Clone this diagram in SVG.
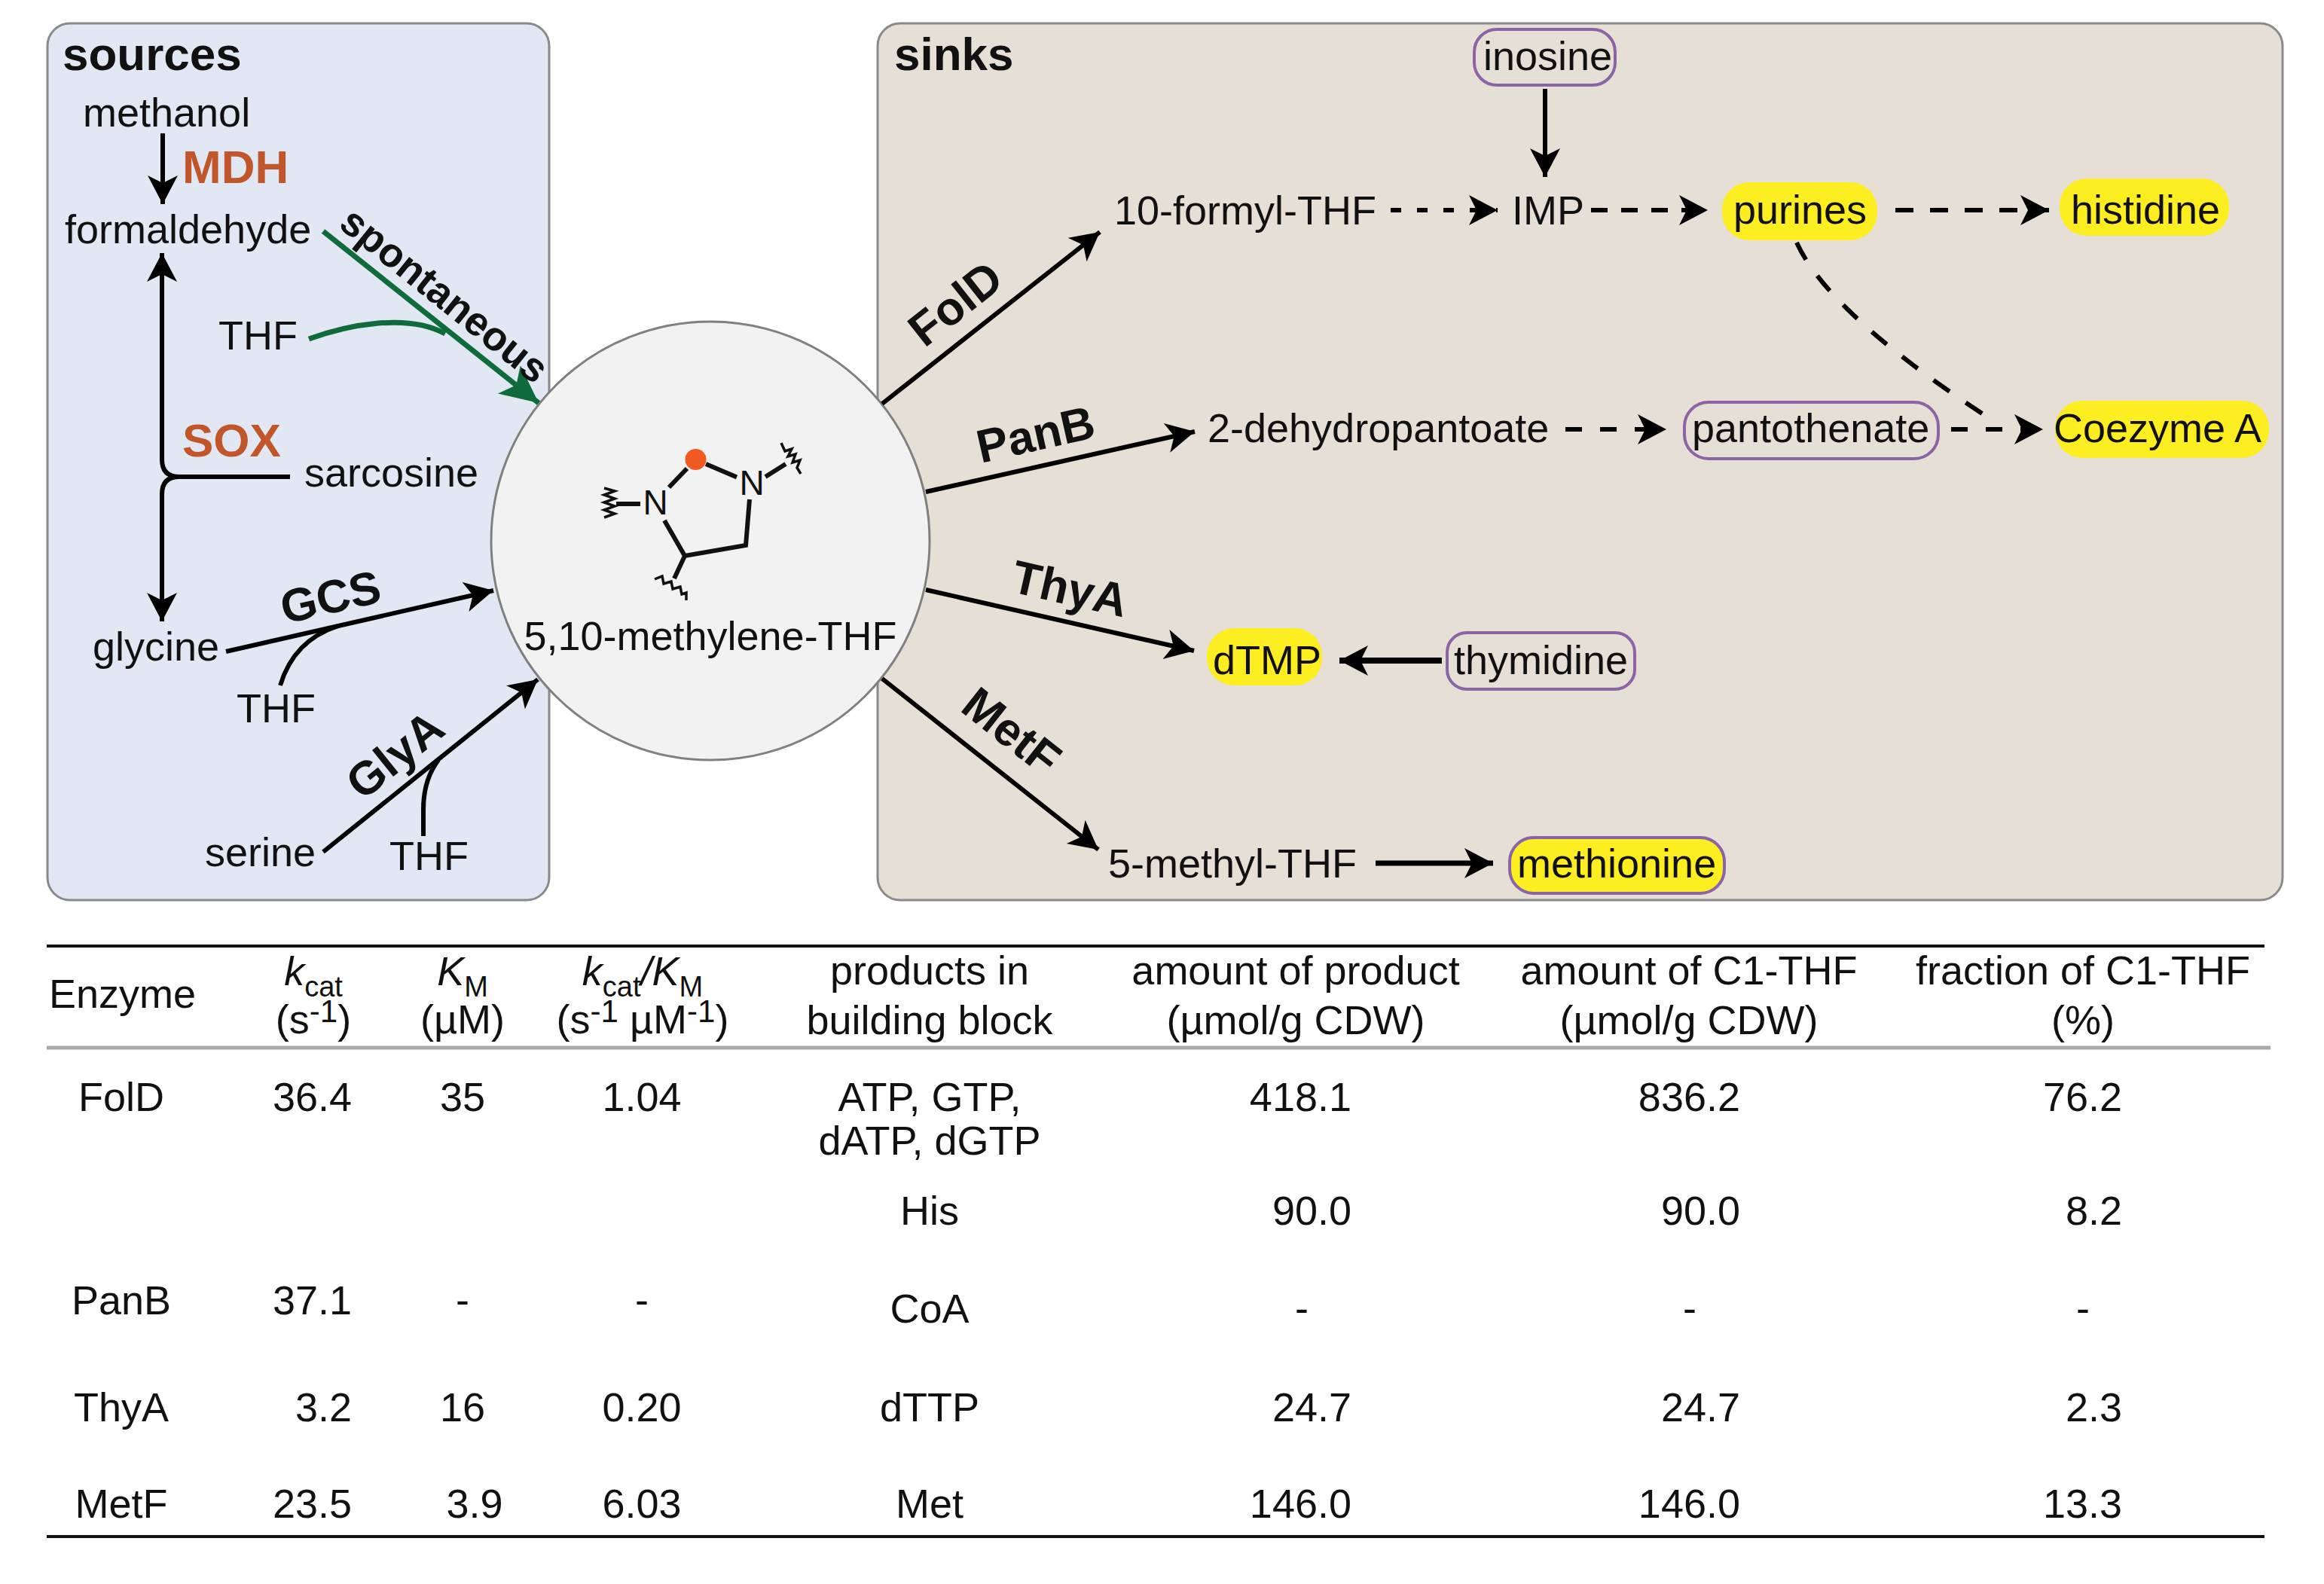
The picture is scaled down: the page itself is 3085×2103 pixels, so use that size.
<svg xmlns="http://www.w3.org/2000/svg" width="3085" height="2103" viewBox="0 0 3085 2103">
<style>
text{font-family:"Liberation Sans",Arial,sans-serif;font-size:54px;fill:#111}
.b{font-weight:bold;font-size:62px}
.o{fill:#c0562a}
.m{text-anchor:middle}
.e{text-anchor:end}
.i{font-style:italic}
.s{font-size:38px}
.u{font-size:42px}
.panel{stroke:#8a8a8a;stroke-width:3}
.pill{fill:none;stroke:#8a64a6;stroke-width:4}
.y{fill:#fdee21}
.l{fill:none;stroke:#000;stroke-width:6}
.la{fill:none;stroke:#000;stroke-width:6;marker-end:url(#a)}
.g{fill:none;stroke:#0f6b3c;stroke-width:7}
.bond{fill:none;stroke:#111;stroke-width:6}
.sq{fill:none;stroke:#111;stroke-width:3.500}
</style>
<defs>
<marker id="a" markerUnits="userSpaceOnUse" markerWidth="44" markerHeight="44" refX="38" refY="20" orient="auto"><path d="M0,0 L38,20 L0,40 L10,20z" fill="#000"/></marker>
<marker id="ag" markerUnits="userSpaceOnUse" markerWidth="56" markerHeight="52" refX="50" refY="24" orient="auto"><path d="M0,0 L50,24 L0,48 L12,24z" fill="#0f6b3c"/></marker>
</defs>
<rect width="3085" height="2103" fill="#fff"/>
<rect id="sources-panel" class="panel" x="63" y="31" width="666" height="1164" rx="30" fill="#e1e7f3"/>
<rect id="sinks-panel" class="panel" x="1165" y="31" width="1865" height="1164" rx="30" fill="#e6dfd6"/>
<g id="hub">
<circle cx="943" cy="718" r="291" fill="#f2f2f2" stroke="#808080" stroke-width="3"/>
<circle cx="923.500" cy="610" r="14" fill="#f05a22"/>
<path class="bond" d="M888,647L912,622M937,616L978,633.500M995,663L990,724L909,738L882,691M909,738L895,768M818,669H850M1016,633L1043,616"/>
<path class="sq" d="M802,648l14,4l-14,5l14,5l-14,5l14,5l-14,5l14,5l-14,5M1037,588l5,11l9,-3l-5,10l10,-3l-4,11l10,-3l-4,10l5,8M869,769l10,-4l2,10l10,-3l2,10l10,-3l2,10l6,-2l0,10"/>
<text x="870" y="683" class="m" style="font-size:46px">N</text>
<text x="998" y="657" class="m" style="font-size:46px">N</text>
<text x="943" y="863" class="m">5,10-methylene-THF</text>
</g>
<g id="connectors">
<path class="la" d="M216,177V271"/>
<path class="la" d="M238,633Q215,633 215,610V336"/>
<path class="la" d="M385,633H238Q215,633 215,656V825"/>
<path class="g" d="M429,307L715,535" style="marker-end:url(#ag)"/>
<path class="g" d="M410,450C460,432 540,415 591,443"/>
<path class="la" d="M300,865L655,784"/>
<path class="l" d="M372,910Q390,850 449,831"/>
<path class="la" d="M429,1131L714,902"/>
<path class="l" d="M562,1110V1075Q562,1035 582,1009"/>
<path class="la" d="M1171,536L1460,308"/>
<path class="la" d="M1229,653L1586,573"/>
<path class="la" d="M1229,783L1585,864"/>
<path class="la" d="M1171,901L1458,1128"/>
<path class="la" d="M2051,118V235"/>
<path class="la" d="M1846,279H1988" stroke-dasharray="14 21"/>
<path class="la" d="M2112,279H2267" stroke-dasharray="22 18"/>
<path class="la" d="M2516,279H2720" stroke-dasharray="24 22"/>
<path class="la" d="M2078,570H2212" stroke-dasharray="22 24"/>
<path class="la" d="M2590,570H2712" stroke-dasharray="22 24"/>
<path class="l" d="M2385,322C2420,400 2540,490 2642,556" stroke-dasharray="26 26"/>
<path class="la" d="M1914,877H1778" style="stroke-width:8"/>
<path class="la" d="M1826,1146H1982" style="stroke-width:7"/>
</g>
<g id="sources-labels">
<text x="83" y="93" class="b">sources</text>
<text x="110" y="168">methanol</text>
<text x="242" y="243" class="b o">MDH</text>
<text x="86" y="323">formaldehyde</text>
<text x="290" y="464">THF</text>
<text x="242" y="606" class="b o">SOX</text>
<text x="404" y="646">sarcosine</text>
<text x="123" y="877">glycine</text>
<text x="314" y="959">THF</text>
<text x="272" y="1150">serine</text>
<text x="517" y="1155">THF</text>
<text class="b m" style="font-size:54px" transform="translate(590,392) rotate(38.800)" y="18">spontaneous</text>
<text class="b m" transform="translate(439,794) rotate(-12.800)" y="20">GCS</text>
<text class="b m" transform="translate(525,1003) rotate(-38.800)" y="20">GlyA</text>
</g>
<g id="sinks-labels">
<text x="1187" y="93" class="b">sinks</text>
<text x="1479" y="298">10-formyl-THF</text>
<text x="2007" y="298">IMP</text>
<text x="1603" y="587">2-dehydropantoate</text>
<text x="1471" y="1165">5-methyl-THF</text>
<text class="b m" transform="translate(1269,404) rotate(-38.300)" y="20">FolD</text>
<text class="b m" transform="translate(1375,578) rotate(-12.700)" y="20">PanB</text>
<text class="b m" transform="translate(1420,783) rotate(12.800)" y="20">ThyA</text>
<text class="b m" transform="translate(1342,972) rotate(38.300)" y="20">MetF</text>
</g>
<g id="inosine"><rect class="pill" x="1957" y="39" width="187" height="74" rx="30"/><text x="1969" y="93">inosine</text></g>
<g id="pantothenate"><rect class="pill" x="2236" y="534" width="337" height="75" rx="32"/><text x="2246" y="587">pantothenate</text></g>
<g id="thymidine"><rect class="pill" x="1921" y="840" width="249" height="75" rx="26"/><text x="1930" y="895">thymidine</text></g>
<g id="purines"><rect class="y" x="2286" y="242" width="206" height="77" rx="36"/><text x="2301" y="297">purines</text></g>
<g id="histidine"><rect class="y" x="2734" y="237" width="225" height="76" rx="36"/><text x="2749" y="297">histidine</text></g>
<g id="coenzyme-a"><rect class="y" x="2728" y="532" width="284" height="76" rx="36"/><text x="2726" y="587">Coezyme A</text></g>
<g id="dtmp"><rect class="y" x="1602" y="834" width="153" height="76" rx="36"/><text x="1610" y="895">dTMP</text></g>
<g id="methionine"><rect class="y" x="2004" y="1112" width="285" height="74" rx="32" stroke="#8a64a6" stroke-width="4"/><text x="2014" y="1165">methionine</text></g>
<g id="table">
<path d="M62,1256H3006M62,2040H3006" stroke="#111" stroke-width="4"/>
<path d="M62,1391H3014" stroke="#aaa" stroke-width="5"/>
<text x="65" y="1338">Enzyme</text>
<text x="416" y="1308" class="m"><tspan class="i">k</tspan><tspan class="s" dy="15">cat</tspan></text>
<text x="416" y="1372" class="m">(s<tspan class="u" dy="-15">-1</tspan><tspan dy="15">)</tspan></text>
<text x="614" y="1308" class="m"><tspan class="i">K</tspan><tspan class="s" dy="15">M</tspan></text>
<text x="614" y="1372" class="m">(µM)</text>
<text x="853" y="1308" class="m"><tspan class="i">k</tspan><tspan class="s" dy="15">cat</tspan><tspan class="i" dy="-15">/K</tspan><tspan class="s" dy="15">M</tspan></text>
<text x="853" y="1372" class="m">(s<tspan class="u" dy="-15">-1</tspan><tspan dy="15"> µM</tspan><tspan class="u" dy="-15">-1</tspan><tspan dy="15">)</tspan></text>
<text x="1234" y="1307" class="m">products in</text>
<text x="1234" y="1373" class="m">building block</text>
<text x="1720" y="1307" class="m">amount of product</text>
<text x="1720" y="1373" class="m">(µmol/g CDW)</text>
<text x="2242" y="1307" class="m">amount of C1-THF</text>
<text x="2242" y="1373" class="m">(µmol/g CDW)</text>
<text x="2765" y="1307" class="m">fraction of C1-THF</text>
<text x="2765" y="1373" class="m">(%)</text>
<text x="161" y="1475" class="m">FolD</text><text x="467" y="1475" class="e">36.4</text><text x="614" y="1475" class="m">35</text><text x="852" y="1475" class="m">1.04</text>
<text x="1234" y="1475" class="m">ATP, GTP,</text><text x="1234" y="1533" class="m">dATP, dGTP</text>
<text x="1794" y="1475" class="e">418.1</text><text x="2310" y="1475" class="e">836.2</text><text x="2817" y="1475" class="e">76.2</text>
<text x="1234" y="1626" class="m">His</text><text x="1794" y="1626" class="e">90.0</text><text x="2310" y="1626" class="e">90.0</text><text x="2817" y="1626" class="e">8.2</text>
<text x="161" y="1745" class="m">PanB</text><text x="467" y="1745" class="e">37.1</text><text x="614" y="1744" class="m">-</text><text x="852" y="1744" class="m">-</text>
<text x="1234" y="1756" class="m">CoA</text><text x="1728" y="1755" class="m">-</text><text x="2243" y="1755" class="m">-</text><text x="2765" y="1755" class="m">-</text>
<text x="161" y="1887" class="m">ThyA</text><text x="467" y="1887" class="e">3.2</text><text x="614" y="1887" class="m">16</text><text x="852" y="1887" class="m">0.20</text>
<text x="1234" y="1887" class="m">dTTP</text><text x="1794" y="1887" class="e">24.7</text><text x="2310" y="1887" class="e">24.7</text><text x="2817" y="1887" class="e">2.3</text>
<text x="161" y="2015" class="m">MetF</text><text x="467" y="2015" class="e">23.5</text><text x="630" y="2015" class="m">3.9</text><text x="852" y="2015" class="m">6.03</text>
<text x="1234" y="2015" class="m">Met</text><text x="1794" y="2015" class="e">146.0</text><text x="2310" y="2015" class="e">146.0</text><text x="2817" y="2015" class="e">13.3</text>
</g>
</svg>
